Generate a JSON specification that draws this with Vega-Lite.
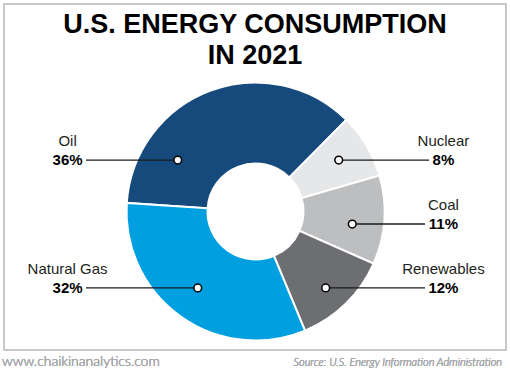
{
  "$schema": "https://vega.github.io/schema/vega-lite/v6.json",
  "width": 502,
  "height": 346,
  "autosize": "none",
  "padding": {"left": 4, "top": 4, "right": 4, "bottom": 21},
  "background": "white",
  "title": {
    "text": ["U.S. ENERGY CONSUMPTION", "IN 2021"],
    "anchor": "middle",
    "offset": -66,
    "font": "Liberation Sans",
    "fontSize": 27,
    "fontWeight": "bold",
    "color": "#000000",
    "lineHeight": 31
  },
  "config": {
    "view": {"stroke": "#c8c8c8", "strokeWidth": 2}
  },
  "data": {
    "values": [
      {"source": "Oil", "value": 36, "ord": 1, "pct": "36%", "dotX": -60.3, "dotY": 39.9, "lineEnd": -131.4, "labelX": -145.7},
      {"source": "Nuclear", "value": 8, "ord": 2, "pct": "8%", "dotX": 64.5, "dotY": 39.9, "lineEnd": 134.5, "labelX": 145.7},
      {"source": "Coal", "value": 11, "ord": 3, "pct": "11%", "dotX": 75.0, "dotY": -9.7, "lineEnd": 131.4, "labelX": 145.7},
      {"source": "Renewables", "value": 12, "ord": 4, "pct": "12%", "dotX": 54.4, "dotY": -59.3, "lineEnd": 131.4, "labelX": 145.7},
      {"source": "Natural Gas", "value": 32, "ord": 5, "pct": "32%", "dotX": -44.8, "dotY": -59.3, "lineEnd": -131.4, "labelX": -145.7}
    ]
  },
  "layer": [
    {
      "mark": {"type": "arc", "radius": 129, "radius2": 48, "stroke": "white", "strokeWidth": 2},
      "encoding": {
        "x": {"datum": 0, "type": "quantitative", "scale": {"domain": [-195, 194.2], "nice": false, "zero": false}, "axis": null},
        "y": {"datum": 0, "type": "quantitative", "scale": {"domain": [-107.4, 160.9], "nice": false, "zero": false}, "axis": null},
        "theta": {"field": "value", "type": "quantitative", "stack": true, "scale": {"range": [4.779, 11.062]}},
        "order": {"field": "ord", "type": "quantitative"},
        "color": {
          "field": "source",
          "type": "nominal",
          "scale": {
            "domain": ["Oil", "Nuclear", "Coal", "Renewables", "Natural Gas"],
            "range": ["#174a7c", "#e6e7e8", "#bcbec0", "#6d6e71", "#009fdf"]
          },
          "legend": null
        }
      }
    },
    {
      "mark": {"type": "rule", "color": "#1a1a1a", "strokeWidth": 1.3},
      "encoding": {
        "x": {"field": "dotX", "type": "quantitative"},
        "x2": {"field": "lineEnd"},
        "y": {"field": "dotY", "type": "quantitative"}
      }
    },
    {
      "mark": {"type": "point", "shape": "circle", "filled": false, "fill": "white", "fillOpacity": 1, "stroke": "#000000", "strokeWidth": 1.5, "size": 60, "opacity": 1},
      "encoding": {
        "x": {"field": "dotX", "type": "quantitative"},
        "y": {"field": "dotY", "type": "quantitative"}
      }
    },
    {
      "mark": {"type": "text", "font": "Liberation Sans", "fontSize": 15, "color": "#231f20", "align": "center", "baseline": "middle", "dy": -19},
      "encoding": {
        "x": {"field": "labelX", "type": "quantitative"},
        "y": {"field": "dotY", "type": "quantitative"},
        "text": {"field": "source"}
      }
    },
    {
      "mark": {"type": "text", "font": "Liberation Sans", "fontSize": 15, "fontWeight": "bold", "color": "#000000", "align": "center", "baseline": "middle"},
      "encoding": {
        "x": {"field": "labelX", "type": "quantitative"},
        "y": {"field": "dotY", "type": "quantitative"},
        "text": {"field": "pct"}
      }
    },
    {
      "mark": {"type": "text", "font": "Lato", "fontSize": 14, "fontWeight": 300, "color": "#a7a9ac", "align": "left", "baseline": "alphabetic"},
      "encoding": {
        "x": {"datum": -196.5, "type": "quantitative"},
        "y": {"datum": -119.8, "type": "quantitative"},
        "text": {"value": "www.chaikinanalytics.com"}
      }
    },
    {
      "mark": {"type": "text", "font": "Lato", "fontSize": 11, "fontWeight": 300, "fontStyle": "italic", "color": "#a7a9ac", "align": "right", "baseline": "alphabetic"},
      "encoding": {
        "x": {"datum": 191.1, "type": "quantitative"},
        "y": {"datum": -119.8, "type": "quantitative"},
        "text": {"value": "Source: U.S. Energy Information Administration"}
      }
    }
  ]
}
